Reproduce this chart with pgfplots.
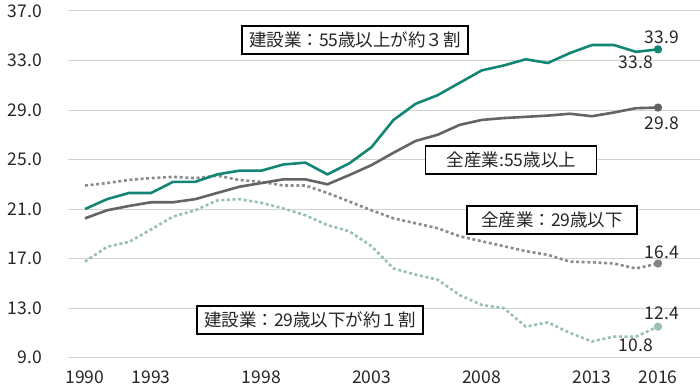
\documentclass[border=0pt]{standalone}
\usepackage{pgfplots}
\pgfplotsset{compat=1.18}
\usepackage{fontspec}
\setmainfont{Noto Sans CJK JP}
\definecolor{cteal}{RGB}{18,134,114}
\definecolor{cgray}{RGB}{100,100,100}
\definecolor{cgrayd}{RGB}{140,140,140}
\definecolor{clteal}{RGB}{152,192,181}
\definecolor{ctext}{RGB}{38,38,38}
\definecolor{cgrid}{RGB}{210,210,210}

\pgfplotstableread{
year c55 a55 a29 c29
1990 21.0 20.25 22.9 16.75
1991 21.8 20.9 23.1 17.95
1992 22.3 21.25 23.35 18.35
1993 22.3 21.55 23.5 19.35
1994 23.2 21.55 23.6 20.4
1995 23.2 21.8 23.5 20.9
1996 23.8 22.3 23.7 21.7
1997 24.1 22.8 23.35 21.8
1998 24.1 23.1 23.2 21.5
1999 24.6 23.4 22.9 21.05
2000 24.75 23.4 22.9 20.5
2001 23.8 23.0 22.3 19.7
2002 24.7 23.75 21.6 19.2
2003 26.0 24.55 20.9 18.0
2004 28.2 25.55 20.25 16.2
2005 29.5 26.5 19.85 15.7
2006 30.2 27.0 19.45 15.3
2007 31.2 27.8 18.8 14.05
2008 32.2 28.2 18.4 13.25
2009 32.6 28.35 18.0 13.0
2010 33.1 28.45 17.6 11.5
2011 32.8 28.55 17.3 11.85
2012 33.6 28.7 16.75 11.0
2013 34.25 28.5 16.7 10.3
2014 34.25 28.8 16.6 10.7
2015 33.7 29.15 16.2 10.7
2016 33.9 29.2 16.6 11.5
}\datatable

\begin{document}
\begin{tikzpicture}
\useasboundingbox (0,0) rectangle (700pt,388pt);
\begin{axis}[
  at={(68pt,30.4pt)}, anchor=south west,
  scale only axis, width=632pt, height=346.6pt,
  xmin=1989.229, xmax=2017.906, ymin=9, ymax=37,
  axis line style={draw=none},
  major tick length=0pt,
  ytick={9,13,17,21,25,29,33,37},
  xtick={1990,1993,1998,2003,2008,2013,2016},
  ymajorgrids, grid style={cgrid, line width=1pt},
  /pgf/number format/assume math mode=true,
  x tick label style={/pgf/number format/1000 sep={}, anchor=north, inner sep=0pt, yshift=-12.5pt, font=\fontsize{17.5}{20}\selectfont, text=ctext},
  y tick label style={/pgf/number format/fixed, /pgf/number format/fixed zerofill, /pgf/number format/precision=1, anchor=east, inner sep=0pt, xshift=-26pt, font=\fontsize{17.5}{20}\selectfont, text=ctext},
  clip=false,
  every axis plot/.append style={line join=round, line cap=butt},
]
\addplot[clteal, line width=2.6pt, dash pattern=on 3pt off 2.6pt, mark=*, mark indices={27}, mark size=2.8pt, mark options={solid}] table[x=year,y=c29]{\datatable};
\addplot[cgrayd, line width=2.6pt, dash pattern=on 3pt off 2.6pt, mark=*, mark indices={27}, mark size=2.8pt, mark options={solid, fill=cgray!80, draw=cgray!80}] table[x=year,y=a29]{\datatable};
\addplot[cgray, line width=2.6pt, mark=*, mark indices={27}, mark size=2.8pt] table[x=year,y=a55]{\datatable};
\addplot[cteal, line width=2.6pt, mark=*, mark indices={27}, mark size=2.8pt] table[x=year,y=c55]{\datatable};

\tikzset{box/.style={draw=black, line width=1.1pt, fill=white, inner sep=0pt, minimum height=28pt, font=\fontsize{17.5}{20}\selectfont, text=ctext}}
\node[box, minimum width=226pt] at (axis cs:2002.25,34.66) {建設業：55歳以上が約３割};
\node[box, minimum width=171pt] at (axis cs:2009.35,24.96) {全産業:55歳以上};
\node[box, minimum width=170pt] at (axis cs:2011.19,20.12) {全産業：29歳以下};
\node[box, minimum width=226pt] at (axis cs:2000.21,12.04) {建設業：29歳以下が約１割};

\tikzset{dl/.style={inner sep=0pt, font=\fontsize{17.5}{20}\selectfont, text=ctext}}
\node[dl] at (axis cs:2016.18,34.9) {33.9};
\node[dl] at (axis cs:2015.0,32.88) {33.8};
\node[dl] at (axis cs:2016.18,27.95) {29.8};
\node[dl] at (axis cs:2016.18,17.53) {16.4};
\node[dl] at (axis cs:2016.18,12.61) {12.4};
\node[dl] at (axis cs:2015.0,10.02) {10.8};
\end{axis}
\end{tikzpicture}
\end{document}
